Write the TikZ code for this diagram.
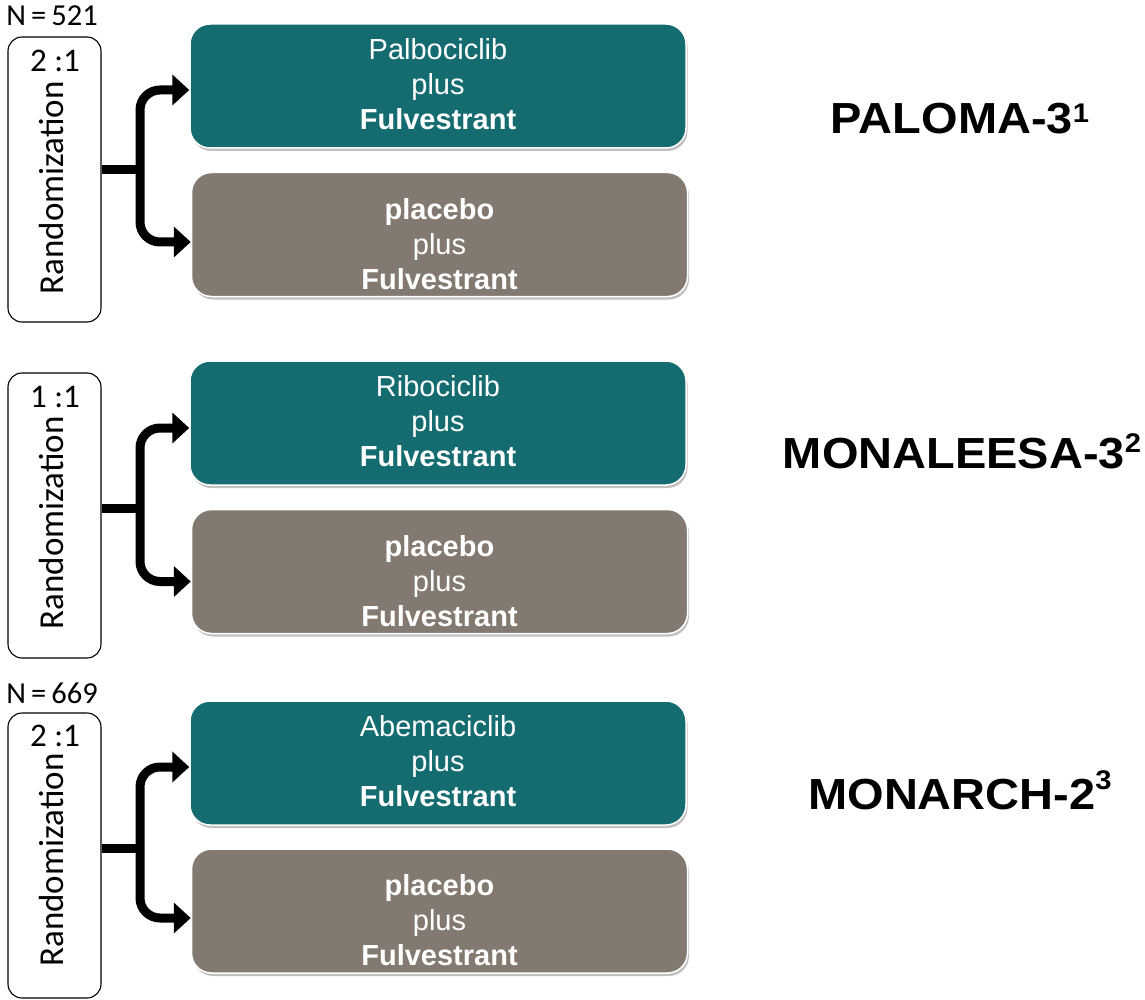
\documentclass[tikz,border=0pt]{standalone}
\usepackage{fontspec}
\setmainfont{Liberation Sans}
\newfontfamily\calfont{Carlito}
\usetikzlibrary{arrows.meta,shadows,calc}
\definecolor{tealbox}{RGB}{20,107,112}
\definecolor{graybox}{RGB}{130,121,112}
\tikzset{
  armbox/.style={rectangle, rounded corners=20pt, draw=white, line width=1.5pt,
    minimum width=496pt, minimum height=124pt, inner sep=0pt,
    drop shadow={shadow xshift=1.5pt, shadow yshift=-3pt, opacity=0.35, fill=black!70}},
  tealarm/.style={armbox, fill=tealbox},
  grayarm/.style={armbox, fill=graybox},
  armtext/.style={text=white, align=center, font=\fontsize{29}{35}\selectfont, inner sep=0pt},
  randbox/.style={rectangle, rounded corners=14pt, draw=black, line width=1.1pt,
    minimum width=93pt, minimum height=285pt, inner sep=0pt},
  randtext/.style={font=\calfont\fontsize{35}{35}\selectfont, rotate=90, inner sep=0pt},
  ratio/.style={font=\calfont\fontsize{33}{33}\selectfont, inner sep=0pt},
  ntext/.style={font=\calfont\fontsize{30.5}{30.5}\selectfont, inner sep=0pt},
  link/.style={line width=9pt, rounded corners=20pt},
  arrowlink/.style={link, -{Triangle[length=17pt,width=30pt]}},
  title/.style={font=\bfseries\fontsize{43.5}{43.5}\selectfont, anchor=base, inner sep=0pt}
}
\newcommand{\supnum}[2]{\raisebox{#1}{\bfseries\fontsize{27}{27}\selectfont #2}}
\newcommand{\wide}[1]{\scalebox{1.08}[1]{#1}}
\begin{document}
\begin{tikzpicture}[x=1pt,y=-1pt]
\useasboundingbox (0,0) rectangle (1145,1000);

% ---------- Set 1: PALOMA-3 ----------
\node[ntext] (n1) at (52,16) {N\,=\,521};
\node[randbox] (r1) at (54.5,179.5) {};
\node[ratio] (q1) at (55,61) {2 :1};
\node[randtext] (rt1) at (51,188) {Randomization};
\node[tealarm] (t1) at (438,86) {};
\node[armtext] (tt1) at (438,84) {Palbociclib\\plus\\\textbf{Fulvestrant}};
\node[grayarm] (g1) at (439.5,234.5) {};
\node[armtext] (gt1) at (439.5,244) {\textbf{placebo}\\plus\\\textbf{Fulvestrant}};
\coordinate (j1) at (140,170);
\draw[link] (r1.east |- j1) -- (j1);
\draw[arrowlink] (j1) |- ([yshift=-4pt]t1.west);
\draw[arrowlink] (j1) |- ([yshift=-7.5pt]g1.west);
\node[title] (h1) at (960,134) {\wide{PALOMA-3\supnum{11pt}{1}}};

% ---------- Set 2: MONALEESA-3 ----------
\node[randbox] (r2) at (54.5,515.5) {};
\node[ratio] (q2) at (55,397) {1 :1};
\node[randtext] (rt2) at (51,523) {Randomization};
\node[tealarm] (t2) at (438,423) {};
\node[armtext] (tt2) at (438,421) {Ribociclib\\plus\\\textbf{Fulvestrant}};
\node[grayarm] (g2) at (439.5,571.5) {};
\node[armtext] (gt2) at (439.5,581) {\textbf{placebo}\\plus\\\textbf{Fulvestrant}};
\coordinate (j2) at (140,508);
\draw[link] (r2.east |- j2) -- (j2);
\draw[arrowlink] (j2) |- ([yshift=-5pt]t2.west);
\draw[arrowlink] (j2) |- ([yshift=-10pt]g2.west);
\node[title] (h2) at (962,468) {\wide{MONALEESA-3\supnum{16pt}{2}}};

% ---------- Set 3: MONARCH-2 ----------
\node[ntext] (n3) at (52,693) {N\,=\,669};
\node[randbox] (r3) at (54.5,855.5) {};
\node[ratio] (q3) at (55,736) {2 :1};
\node[randtext] (rt3) at (51,860) {Randomization};
\node[tealarm] (t3) at (438,763) {};
\node[armtext] (tt3) at (438,761) {Abemaciclib\\plus\\\textbf{Fulvestrant}};
\node[grayarm] (g3) at (439.5,911) {};
\node[armtext] (gt3) at (439.5,920) {\textbf{placebo}\\plus\\\textbf{Fulvestrant}};
\coordinate (j3) at (140,848);
\draw[link] (r3.east |- j3) -- (j3);
\draw[arrowlink] (j3) |- ([yshift=-4pt]t3.west);
\draw[arrowlink] (j3) |- ([yshift=-7pt]g3.west);
\node[title] (h3) at (960,809) {\wide{MONARCH-2\supnum{20pt}{3}}};
\end{tikzpicture}
\end{document}
